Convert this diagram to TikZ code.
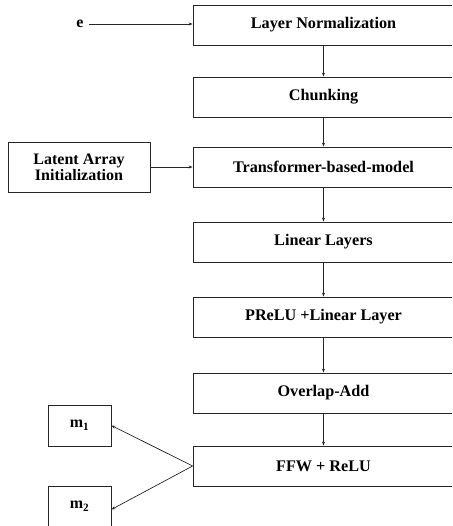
\documentclass[tikz,border=0pt]{standalone}
\usepackage{fontspec}
\setmainfont{Liberation Serif}
\usetikzlibrary{arrows.meta}
\begin{document}
\begin{tikzpicture}[x=1pt,y=-1pt,
  mainbox/.style={draw=black!85,line width=0.8pt,minimum width=261pt,minimum height=40pt,inner sep=0pt,font=\fontsize{16.2}{18}\selectfont\bfseries},
  sidebox/.style={draw=black!85,line width=0.8pt,inner sep=0pt,font=\fontsize{16}{18}\selectfont\bfseries,align=center},
  arr/.style={draw=black!85,line width=0.7pt,-{Stealth[length=4pt,width=3pt]}}]
\clip (0,0) rectangle (452,526);
\useasboundingbox (0,0) rectangle (452,526);
\node[mainbox] (ln) at (323.5,25) {Layer Normalization};
\node[mainbox] (ch) at (323.5,97) {Chunking};
\node[mainbox] (tr) at (323.5,167) {Transformer-based-model};
\node[mainbox] (ll) at (323.5,242) {Linear Layers};
\node[mainbox] (pr) at (323.5,317) {PReLU +Linear Layer};
\node[mainbox] (oa) at (323.5,393) {Overlap-Add};
\node[mainbox] (ff) at (323.5,466) {FFW + ReLU};
\node[sidebox,minimum width=142pt,minimum height=50pt] (la) at (79,167) {Latent Array\\[-2pt]Initialization};
\node[font=\fontsize{16}{18}\selectfont\bfseries,inner sep=1pt] (e) at (80,24) {e};
\node[sidebox,minimum width=63pt,minimum height=41pt] (m1) at (79.5,425.5) {m\textsubscript{1}};
\node[sidebox,minimum width=63pt,minimum height=41pt] (m2) at (79.5,506.5) {m\textsubscript{2}};
\draw[arr] (e.east) ++(4,0) coordinate (es) -- (ln.west |- es);
\draw[arr] (ln) -- (ch);
\draw[arr] (ch) -- (tr);
\draw[arr] (la) -- (tr);
\draw[arr] (tr) -- (ll);
\draw[arr] (ll) -- (pr);
\draw[arr] (pr) -- (oa);
\draw[arr] (oa) -- (ff);
\draw[arr] (ff.west) -- (m1.east);
\draw[arr] (ff.west) -- ([yshift=-3pt]m2.east);
\end{tikzpicture}
\end{document}
